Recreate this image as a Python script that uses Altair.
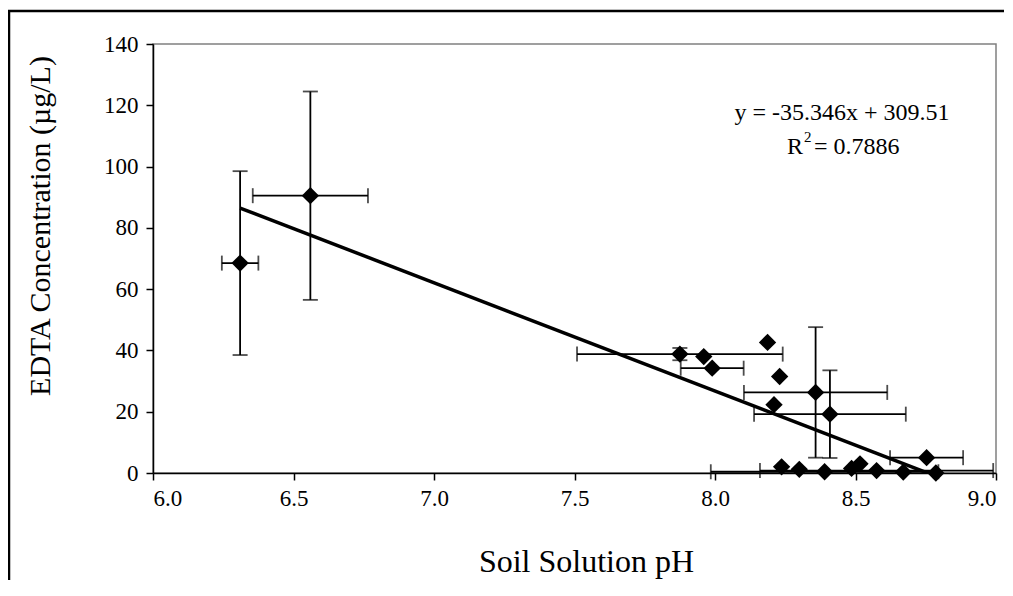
import altair as alt
import pandas as pd

# Soil solution pH (x), EDTA concentration (y) and their error half-widths
ph = [6.31, 6.56, 7.875, 7.96, 7.99, 8.187, 8.23, 8.21, 8.358, 8.409,
      8.237, 8.30, 8.39, 8.486, 8.516, 8.575, 8.67, 8.753, 8.786]
edta = [68.5, 90.5, 38.8, 38.0, 34.2, 42.6, 31.5, 22.3, 26.3, 19.2,
        2.0, 1.2, 0.4, 1.5, 3.0, 0.8, 0.3, 5.0, 0.0]
ph_err = [0.065, 0.205, 0.366, 0, 0.112, 0, 0, 0, 0.255, 0.27,
          0, 0, 0.405, 0, 0, 0.415, 0, 0.13, 0]
edta_err = [30.0, 34.0, 2.0, 0, 0, 0, 0, 0, 21.3, 14.3,
            0, 0, 0, 0, 0, 0, 0, 0, 0]

# Linear trendline as reported on the chart
slope = -35.346
intercept = 309.51
eq_line1 = "y = -35.346x + 309.51"
r2_parts = ["R", "2", "= 0.7886"]

x_ticks = [6.0, 6.5, 7.0, 7.5, 8.0, 8.5, 9.0]
y_ticks = [0, 20, 40, 60, 80, 100, 120, 140]

FONT = "Liberation Serif"
W, H = 843, 429

df = pd.DataFrame({"ph": ph, "edta": edta, "ph_err": ph_err, "edta_err": edta_err})
df["ph_lo"] = df["ph"] - df["ph_err"]
df["ph_hi"] = df["ph"] + df["ph_err"]
df["edta_lo"] = df["edta"] - df["edta_err"]
df["edta_hi"] = df["edta"] + df["edta_err"]
dfx = df[df["ph_err"] > 0]
dfy = df[df["edta_err"] > 0]

trend_x = [min(ph), max(ph)]
trend = pd.DataFrame({"ph": trend_x, "edta": [slope * v + intercept for v in trend_x]})

xscale = alt.Scale(domain=[6.0, 9.0], nice=False, zero=False)
yscale = alt.Scale(domain=[0, 140], nice=False)

xaxis = alt.Axis(values=x_ticks, format=".1f", title="Soil Solution pH",
                 grid=False, tickSize=7, labelPadding=7, tickColor="black",
                 domainColor="black", domainWidth=1.5, tickWidth=1.5,
                 labelFont=FONT, labelFontSize=23, labelColor="black",
                 titleFont=FONT, titleFontSize=32, titleFontWeight="normal",
                 titleColor="black", titleBaseline="alphabetic", titleY=98,
                 titleX=433)
yaxis = alt.Axis(values=y_ticks, format="d", title="EDTA Concentration (µg/L)",
                 grid=False, tickSize=7, labelPadding=8, tickColor="black",
                 domainColor="black", domainWidth=1.5, tickWidth=1.5,
                 labelFont=FONT, labelFontSize=23, labelColor="black",
                 titleFont=FONT, titleFontSize=30, titleFontWeight="normal",
                 titleColor="black", titleBaseline="middle", titleX=-113,
                 titleY=H / 2 - 33)

base_x = alt.X("ph:Q", scale=xscale, axis=xaxis)
base_y = alt.Y("edta:Q", scale=yscale, axis=yaxis)

border = alt.Chart(pd.DataFrame({"k": [0]})).mark_rect(
    fill=None, stroke="black", strokeWidth=2.5, clip=False
).encode(x=alt.value(-144), x2=alt.value(W + 200), y=alt.value(-33), y2=alt.value(H + 300))

xerr = alt.Chart(dfx).mark_rule(color="black", strokeWidth=1.8).encode(
    x=alt.X("ph_lo:Q", scale=xscale, axis=xaxis), x2="ph_hi:Q",
    y=alt.Y("edta:Q", scale=yscale, axis=yaxis))
xcap_lo = alt.Chart(dfx).mark_tick(color="black", orient="vertical", size=15, thickness=1.8).encode(
    x=alt.X("ph_lo:Q", scale=xscale, axis=xaxis), y=alt.Y("edta:Q", scale=yscale, axis=yaxis))
xcap_hi = alt.Chart(dfx).mark_tick(color="black", orient="vertical", size=15, thickness=1.8).encode(
    x=alt.X("ph_hi:Q", scale=xscale, axis=xaxis), y=alt.Y("edta:Q", scale=yscale, axis=yaxis))

yerr = alt.Chart(dfy).mark_rule(color="black", strokeWidth=1.8).encode(
    x=base_x, y=alt.Y("edta_lo:Q", scale=yscale, axis=yaxis), y2="edta_hi:Q")
ycap_lo = alt.Chart(dfy).mark_tick(color="black", orient="horizontal", size=15, thickness=1.8).encode(
    x=base_x, y=alt.Y("edta_lo:Q", scale=yscale, axis=yaxis))
ycap_hi = alt.Chart(dfy).mark_tick(color="black", orient="horizontal", size=15, thickness=1.8).encode(
    x=base_x, y=alt.Y("edta_hi:Q", scale=yscale, axis=yaxis))

line = alt.Chart(trend).mark_line(color="black", strokeWidth=3.5, clip=True).encode(x=base_x, y=base_y)

pts = alt.Chart(df).mark_point(shape="diamond", filled=True, color="black", size=300, opacity=1).encode(
    x=base_x, y=base_y)

def label(text, x, y, size, align):
    return alt.Chart(pd.DataFrame({"t": [text]})).mark_text(
        font=FONT, fontSize=size, color="black", align=align, baseline="alphabetic"
    ).encode(text="t:N", x=alt.value(x), y=alt.value(y))

eq = label(eq_line1, 689, 76, 24, "center")
r_txt = label(r2_parts[0], 650, 110, 24, "right")
sup = label(r2_parts[1], 651, 98, 15, "left")
r_val = label(r2_parts[2], 661, 110, 24, "left")

chart = alt.layer(border, xerr, xcap_lo, xcap_hi, yerr, ycap_lo, ycap_hi, line, pts,
                  eq, r_txt, sup, r_val).properties(
    width=W, height=H,
    autosize=alt.AutoSizeParams(type="none"),
    padding={"left": 145, "top": 36, "right": 8, "bottom": 107},
    background="white",
).configure_view(stroke="#808080", strokeWidth=1.5)

chart.save("out.html", embed_options={"renderer": "svg", "actions": False})
